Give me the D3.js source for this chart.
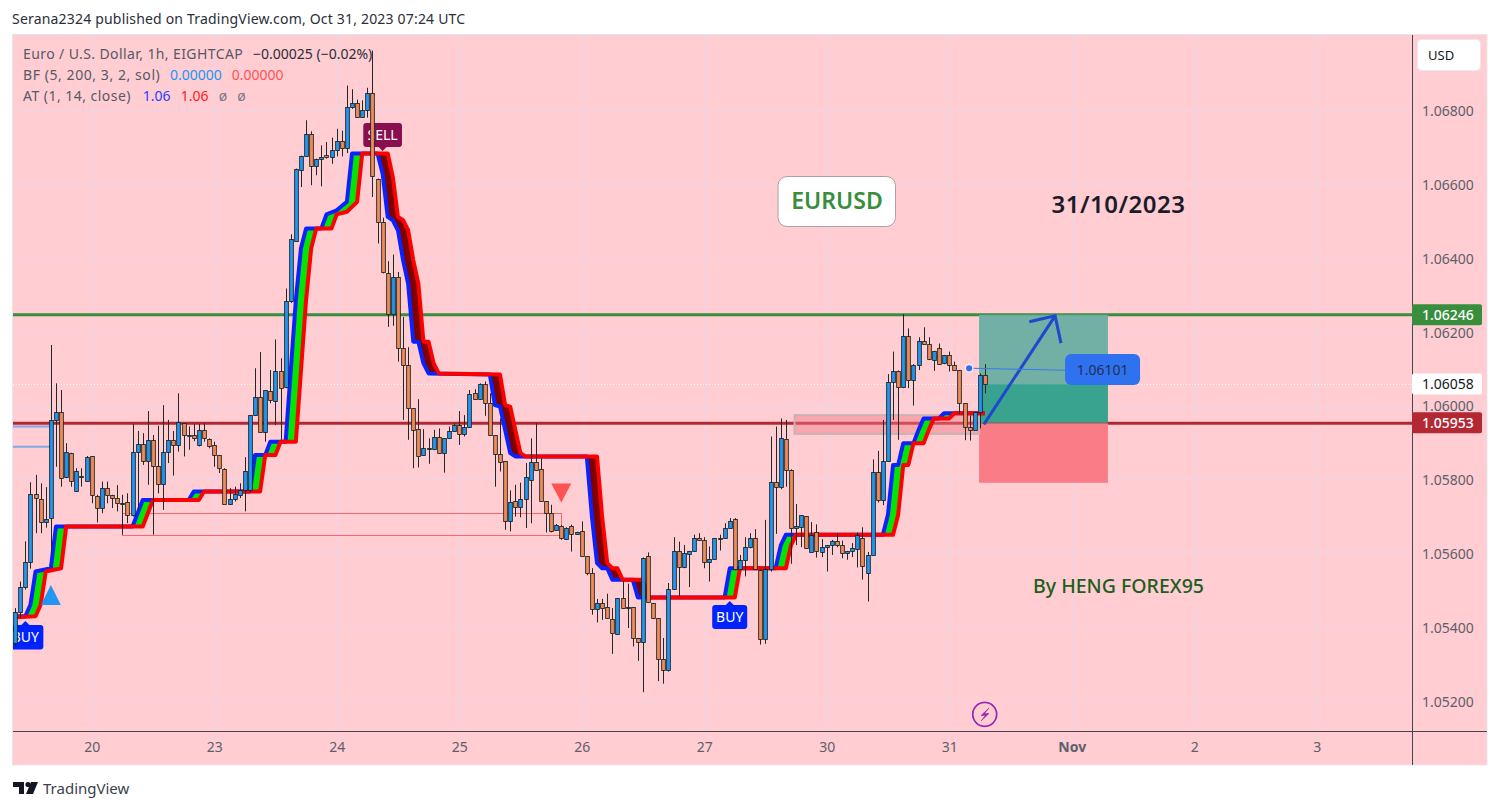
<!DOCTYPE html>
<html><head><meta charset="utf-8">
<script src="https://cdn.jsdelivr.net/npm/d3@7/dist/d3.min.js"></script>
<style>
html,body{margin:0;padding:0;background:#fff;}
svg{display:block;font-family:"Noto Sans",sans-serif;}
</style></head><body>
<svg id="c" width="1500" height="810"></svg>
<script>
// ---- data ----
const opens=[1.05356,1.05440,1.05508,1.05576,1.05760,1.05746,1.05684,1.05695,1.05960,1.05982,1.05806,1.05871,1.05768,1.05808,1.05795,1.05863,1.05754,1.05722,1.05776,1.05757,1.05748,1.05733,1.05738,1.05703,1.05873,1.05895,1.05849,1.05906,1.05835,1.05787,1.05873,1.05906,1.05892,1.05952,1.05919,1.05919,1.05892,1.05933,1.05908,1.05892,1.05865,1.05827,1.05733,1.05746,1.05757,1.05770,1.05770,1.05973,1.06022,1.05927,1.06038,1.06011,1.06093,1.06049,1.06282,1.06446,1.06639,1.06677,1.06737,1.06650,1.06669,1.06679,1.06674,1.06693,1.06718,1.06699,1.06810,1.06820,1.06782,1.06801,1.06847,1.06615,1.06498,1.06360,1.06249,1.06347,1.06155,1.06109,1.05992,1.05936,1.05865,1.05882,1.05881,1.05914,1.05871,1.05911,1.05930,1.05946,1.05922,1.05941,1.06033,1.06017,1.06057,1.06006,1.05919,1.05868,1.05849,1.05687,1.05741,1.05724,1.05746,1.05798,1.05846,1.05827,1.05741,1.05708,1.05662,1.05673,1.05638,1.05673,1.05651,1.05660,1.05592,1.05546,1.05448,1.05465,1.05454,1.05421,1.05381,1.05478,1.05451,1.05454,1.05370,1.05359,1.05592,1.05465,1.05424,1.05313,1.05283,1.05502,1.05605,1.05562,1.05597,1.05605,1.05641,1.05635,1.05576,1.05584,1.05641,1.05641,1.05668,1.05692,1.05557,1.05581,1.05616,1.05641,1.05554,1.05367,1.05557,1.05792,1.05779,1.05909,1.05825,1.05668,1.05670,1.05700,1.05603,1.05657,1.05603,1.05616,1.05622,1.05632,1.05622,1.05600,1.05605,1.05611,1.05641,1.05546,1.05595,1.05819,1.05743,1.05849,1.06063,1.06093,1.06049,1.06187,1.06068,1.06109,1.06174,1.06166,1.06122,1.06157,1.06114,1.06136,1.06109,1.06095,1.06006,1.05941,1.05933,1.05982,1.06082];
const highs=[1.05451,1.05523,1.05632,1.05792,1.05812,1.05789,1.05779,1.06164,1.06060,1.06042,1.05898,1.05872,1.05830,1.05830,1.05863,1.05863,1.05758,1.05794,1.05794,1.05758,1.05784,1.05758,1.05762,1.05950,1.05931,1.05925,1.05985,1.05920,1.05945,1.06001,1.05961,1.05931,1.06033,1.05952,1.05943,1.05950,1.05950,1.05952,1.05911,1.05902,1.05866,1.05830,1.05776,1.05780,1.05789,1.05860,1.05974,1.06101,1.06145,1.06042,1.06096,1.06179,1.06128,1.06317,1.06464,1.06642,1.06677,1.06773,1.06743,1.06669,1.06705,1.06714,1.06726,1.06750,1.06745,1.06867,1.06857,1.06829,1.06827,1.06861,1.06962,1.06615,1.06509,1.06391,1.06409,1.06362,1.06240,1.06158,1.05992,1.06017,1.05936,1.05911,1.05934,1.05938,1.05911,1.05943,1.05952,1.05985,1.05974,1.06042,1.06044,1.06060,1.06065,1.06033,1.05919,1.05965,1.05849,1.05770,1.05785,1.05791,1.05844,1.05911,1.05952,1.05857,1.05741,1.05731,1.05679,1.05676,1.05670,1.05677,1.05658,1.05686,1.05592,1.05559,1.05476,1.05476,1.05490,1.05451,1.05478,1.05523,1.05517,1.05454,1.05370,1.05588,1.05602,1.05465,1.05424,1.05370,1.05519,1.05643,1.05631,1.05622,1.05606,1.05650,1.05654,1.05643,1.05618,1.05641,1.05650,1.05681,1.05695,1.05695,1.05595,1.05643,1.05654,1.05665,1.05556,1.05690,1.05916,1.05943,1.05965,1.05961,1.05827,1.05733,1.05703,1.05700,1.05684,1.05678,1.05638,1.05622,1.05636,1.05654,1.05634,1.05606,1.05627,1.05656,1.05670,1.05603,1.05854,1.05877,1.05961,1.06085,1.06146,1.06095,1.06248,1.06209,1.06112,1.06185,1.06212,1.06185,1.06148,1.06168,1.06137,1.06146,1.06119,1.06096,1.06006,1.05973,1.05983,1.06087,1.06112];
const lows=[1.05347,1.05424,1.05501,1.05558,1.05654,1.05654,1.05669,1.05600,1.05834,1.05780,1.05803,1.05780,1.05767,1.05780,1.05794,1.05735,1.05683,1.05708,1.05735,1.05722,1.05713,1.05650,1.05681,1.05699,1.05717,1.05839,1.05785,1.05650,1.05762,1.05717,1.05844,1.05810,1.05875,1.05862,1.05880,1.05903,1.05889,1.05902,1.05884,1.05834,1.05817,1.05733,1.05731,1.05740,1.05749,1.05713,1.05764,1.05972,1.05927,1.05902,1.06006,1.05947,1.05907,1.06047,1.06278,1.06446,1.06592,1.06676,1.06597,1.06624,1.06594,1.06669,1.06655,1.06675,1.06675,1.06684,1.06804,1.06781,1.06780,1.06780,1.06565,1.06439,1.06358,1.06213,1.06216,1.06119,1.05961,1.05907,1.05830,1.05832,1.05864,1.05842,1.05879,1.05870,1.05818,1.05911,1.05929,1.05893,1.05916,1.05941,1.06015,1.06015,1.05972,1.05919,1.05780,1.05821,1.05663,1.05659,1.05699,1.05697,1.05668,1.05681,1.05824,1.05741,1.05656,1.05656,1.05661,1.05636,1.05636,1.05604,1.05650,1.05592,1.05540,1.05433,1.05412,1.05419,1.05423,1.05327,1.05381,1.05450,1.05397,1.05347,1.05308,1.05223,1.05466,1.05423,1.05253,1.05246,1.05279,1.05502,1.05483,1.05559,1.05508,1.05604,1.05634,1.05559,1.05523,1.05584,1.05607,1.05640,1.05668,1.05557,1.05555,1.05537,1.05613,1.05555,1.05352,1.05354,1.05550,1.05652,1.05773,1.05780,1.05571,1.05622,1.05616,1.05613,1.05602,1.05588,1.05589,1.05550,1.05595,1.05616,1.05586,1.05582,1.05589,1.05561,1.05528,1.05469,1.05595,1.05737,1.05730,1.05848,1.05961,1.05907,1.06047,1.06047,1.06000,1.06096,1.06165,1.06123,1.06094,1.06114,1.06112,1.06092,1.06094,1.05977,1.05906,1.05905,1.05932,1.05938,1.06033];
const closes=[1.05440,1.05508,1.05576,1.05760,1.05748,1.05684,1.05692,1.05960,1.05982,1.05803,1.05875,1.05795,1.05822,1.05806,1.05860,1.05757,1.05722,1.05776,1.05757,1.05749,1.05735,1.05735,1.05703,1.05873,1.05895,1.05849,1.05906,1.05835,1.05787,1.05873,1.05906,1.05892,1.05955,1.05919,1.05917,1.05911,1.05933,1.05911,1.05890,1.05865,1.05830,1.05733,1.05746,1.05760,1.05770,1.05822,1.05973,1.06022,1.05927,1.06041,1.06013,1.06093,1.06047,1.06282,1.06450,1.06642,1.06677,1.06737,1.06650,1.06669,1.06674,1.06674,1.06693,1.06718,1.06699,1.06810,1.06820,1.06782,1.06801,1.06847,1.06623,1.06498,1.06363,1.06249,1.06349,1.06155,1.06109,1.05992,1.05933,1.05862,1.05884,1.05884,1.05914,1.05871,1.05911,1.05930,1.05946,1.05922,1.05941,1.06030,1.06017,1.06057,1.06006,1.05919,1.05868,1.05846,1.05687,1.05738,1.05724,1.05746,1.05806,1.05846,1.05825,1.05741,1.05708,1.05660,1.05676,1.05641,1.05668,1.05651,1.05657,1.05592,1.05546,1.05448,1.05465,1.05451,1.05424,1.05383,1.05478,1.05451,1.05454,1.05370,1.05359,1.05586,1.05467,1.05424,1.05313,1.05283,1.05502,1.05605,1.05562,1.05600,1.05605,1.05641,1.05635,1.05576,1.05584,1.05641,1.05642,1.05668,1.05688,1.05557,1.05581,1.05616,1.05641,1.05557,1.05367,1.05557,1.05792,1.05779,1.05911,1.05825,1.05668,1.05673,1.05703,1.05613,1.05649,1.05605,1.05616,1.05622,1.05632,1.05622,1.05600,1.05605,1.05613,1.05649,1.05565,1.05595,1.05819,1.05743,1.05849,1.06063,1.06093,1.06049,1.06187,1.06068,1.06109,1.06174,1.06166,1.06125,1.06147,1.06114,1.06136,1.06109,1.06095,1.06006,1.05941,1.05933,1.05982,1.06082,1.06057];

const blueIdx=[0,2,3,4,7,8,23,25,34,35,46,47,49,50,53,55,56,57,60,61,63,65,66,71,72,73,74,75,76,77,78,79,80,81,93,94,95,96,97,98,112,113,114,115,116,117,121,122,139,140,149,150,151,170,171,172,173,174,176,177,178,181,182,190];
const blueVal=[1.05429,1.05429,1.05460,1.05550,1.05559,1.05672,1.05672,1.05744,1.05744,1.05767,1.05767,1.05866,1.05866,1.05902,1.05902,1.06286,1.06426,1.06480,1.06480,1.06518,1.06529,1.06552,1.06683,1.06683,1.06628,1.06511,1.06502,1.06475,1.06394,1.06330,1.06173,1.06173,1.06114,1.06087,1.06084,1.06001,1.05997,1.05934,1.05871,1.05862,1.05862,1.05699,1.05573,1.05559,1.05559,1.05528,1.05528,1.05480,1.05480,1.05559,1.05559,1.05621,1.05650,1.05650,1.05704,1.05839,1.05839,1.05898,1.05898,1.05934,1.05965,1.05965,1.05979,1.05979];
const redIdx=[0,4,5,6,9,10,25,27,36,37,48,49,51,52,55,57,58,59,62,63,65,67,68,73,74,75,76,77,78,79,80,81,82,83,95,96,97,98,99,100,114,115,116,117,118,119,123,124,141,142,151,152,153,172,173,174,175,176,178,179,180,183,184,190];
const redVal=[1.05426,1.05429,1.05460,1.05550,1.05559,1.05672,1.05672,1.05744,1.05744,1.05767,1.05767,1.05866,1.05866,1.05902,1.05902,1.06286,1.06426,1.06480,1.06480,1.06518,1.06525,1.06552,1.06683,1.06683,1.06619,1.06511,1.06502,1.06475,1.06394,1.06330,1.06173,1.06173,1.06114,1.06087,1.06084,1.06001,1.05997,1.05934,1.05871,1.05862,1.05862,1.05699,1.05573,1.05559,1.05559,1.05528,1.05528,1.05480,1.05480,1.05559,1.05559,1.05621,1.05650,1.05650,1.05704,1.05839,1.05839,1.05898,1.05898,1.05934,1.05965,1.05965,1.05979,1.05979];

const priceTicks=[1.052,1.054,1.056,1.058,1.060,1.062,1.064,1.066,1.068];
const dayIdx=[15,39,63,87,111,135,159,183,207,231,255];
const dayLabels=["20","23","24","25","26","27","30","31","Nov","2","3"];
const targetPrice=1.06246, entryPrice=1.05953, stopPrice=1.05792, lastPrice=1.06058, callPrice=1.06101;
const rangeBox=[21,107,1.05710,1.05650];
const zoneBox=[152.7,188.85,1.05974,1.05923];
const posBox=[188.85,214.1];
const shortLevels=[1.05943,1.05888];
const arrowIdx=[189.8,203.75,198.7,204.9];
const arrowVal=[1.05949,1.06243,1.06227,1.06169];
const callIdx=[186.9,205.7];

// ---- layout ----
const svg=d3.select("#c");
const L=13,R=1412,T=35,B=731,PR=1487,PB=765;
const x=d3.scaleLinear().domain([15,255]).range([91.7,1316.7]);
const y=d3.scaleLinear().domain([1.052,1.068]).range([700.7,110.3]);
const snap=v=>Math.round(v)+0.5;

svg.append("rect").attr("x",12.5).attr("y",34.5).attr("width",PR-12.5).attr("height",PB-34.5).attr("fill","#ffcdd2").attr("stroke","#e8e6ec");
const defs=svg.append("defs");
defs.append("clipPath").attr("id","pane").append("rect").attr("x",L).attr("y",T).attr("width",R-L).attr("height",B-T);
const pane=svg.append("g").attr("clip-path","url(#pane)");

// grid
const gridC="#e6d6e6";
pane.selectAll(".gy").data(priceTicks).join("line").attr("x1",L).attr("x2",R).attr("y1",d=>snap(y(d))).attr("y2",d=>snap(y(d))).attr("stroke",gridC);
pane.selectAll(".gx").data(dayIdx).join("line").attr("y1",T).attr("y2",B).attr("x1",d=>snap(x(d))).attr("x2",d=>snap(x(d))).attr("stroke",gridC);

// range box and short levels
pane.append("rect").attr("x",snap(x(rangeBox[0]))).attr("width",Math.round(x(rangeBox[1])-x(rangeBox[0])))
  .attr("y",snap(y(rangeBox[2]))).attr("height",Math.round(y(rangeBox[3])-y(rangeBox[2]))).attr("fill","none").attr("stroke","#f4686e").attr("stroke-width",1);
pane.selectAll(".sl").data(shortLevels).join("line").attr("x1",L).attr("x2",50).attr("y1",d=>y(d)).attr("y2",d=>y(d)).attr("stroke","#7fa8e6").attr("stroke-width",2);

// horizontal levels
pane.append("line").attr("x1",L).attr("x2",R).attr("y1",y(lastPrice)+.3).attr("y2",y(lastPrice)+.3).attr("stroke","#fff").attr("stroke-width",1).attr("stroke-dasharray","1 2");
pane.append("line").attr("x1",L).attr("x2",R).attr("y1",y(targetPrice)).attr("y2",y(targetPrice)).attr("stroke","#388e3c").attr("stroke-width",3);
pane.append("line").attr("x1",L).attr("x2",R).attr("y1",y(entryPrice)+.4).attr("y2",y(entryPrice)+.4).attr("stroke","#b22833").attr("stroke-width",3);

// position zones
const px0=x(posBox[0]),pw=x(posBox[1])-x(posBox[0]);
pane.append("rect").attr("x",px0).attr("width",pw).attr("y",y(targetPrice)).attr("height",y(lastPrice)-y(targetPrice)).attr("fill","#6dada2").attr("opacity",.97);
pane.append("rect").attr("x",px0).attr("width",pw).attr("y",y(lastPrice)).attr("height",y(entryPrice)-y(lastPrice)).attr("fill","#33a18d").attr("opacity",.97);
pane.append("rect").attr("x",px0).attr("width",pw).attr("y",y(entryPrice)+.5).attr("height",y(stopPrice)-y(entryPrice)).attr("fill","#f97c86");

// gray zone
pane.append("rect").attr("x",x(zoneBox[0])).attr("width",x(zoneBox[1])-x(zoneBox[0])).attr("y",y(zoneBox[2])).attr("height",y(zoneBox[3])-y(zoneBox[2]))
  .attr("fill","rgba(245,120,130,.45)").attr("stroke","#c9b2b6").attr("stroke-width",2);

// AT band
const blueAt=d3.scaleLinear().domain(blueIdx).range(blueVal);
const redAt=d3.scaleLinear().domain(redIdx).range(redVal);
const bars=d3.range(opens.length);
const areaG=d3.area().x(d=>x(d)).y0(d=>y(redAt(d))).y1(d=>y(Math.max(blueAt(d),redAt(d))));
const areaR=d3.area().x(d=>x(d)).y0(d=>y(redAt(d))).y1(d=>y(Math.min(blueAt(d),redAt(d))));
pane.append("path").attr("d",areaG(bars)).attr("fill","#00e600");
pane.append("path").attr("d",areaR(bars)).attr("fill","#800000");
const lineFn=d3.line().x(d=>x(d[0])).y(d=>y(d[1]));
pane.append("path").attr("d",lineFn(d3.zip(blueIdx,blueVal))).attr("fill","none").attr("stroke","#0a22ff").attr("stroke-width",4).attr("stroke-linejoin","round");
pane.append("path").attr("d",lineFn(d3.zip(redIdx,redVal))).attr("fill","none").attr("stroke","#ff0000").attr("stroke-width",4).attr("stroke-linejoin","round");

// labels under the candles
function tag(cx,top,w,h,dir,fill,label){
  const g=pane.append("g");
  const l=cx-w/2;
  const n=dir==="up"?`M${cx-4} ${top}L${cx} ${top-4}L${cx+4} ${top}Z`:`M${cx-4} ${top+h}L${cx} ${top+h+4}L${cx+4} ${top+h}Z`;
  g.append("path").attr("d",n).attr("fill",fill);
  g.append("rect").attr("x",l).attr("y",top).attr("width",w).attr("height",h).attr("rx",3).attr("fill",fill);
  g.append("text").attr("x",cx).attr("y",top+h/2+5).attr("text-anchor","middle").attr("font-size",14).attr("fill","#fff").text(label);
}
tag(x(2),625,36,24.5,"up","#0022ff","BUY");
tag(x(72),123,38.7,24,"down","#880e4f","SELL");
tag(x(140),605,35,24,"up","#0022ff","BUY");

// triangles
pane.append("path").attr("d",`M${x(7)} 585L${x(7)+10} 605L${x(7)-10} 605Z`).attr("fill","#2196f3");
pane.append("path").attr("d",`M${x(107)-10} 483.5L${x(107)+10} 483.5L${x(107)} 502.5Z`).attr("fill","#ff5252");

// candles
const cg=pane.append("g");
cg.selectAll(".w").data(bars).join("line")
  .attr("x1",i=>snap(x(i))).attr("x2",i=>snap(x(i))).attr("y1",i=>y(highs[i])).attr("y2",i=>y(lows[i])).attr("stroke","#1f2a28").attr("stroke-width",1);
cg.selectAll(".b").data(bars).join("rect")
  .attr("x",i=>Math.round(x(i))-1.35)
  .attr("width",3.7)
  .attr("y",i=>snap(y(Math.max(opens[i],closes[i]))))
  .attr("height",i=>Math.max(1,Math.round(Math.abs(y(opens[i])-y(closes[i])))))
  .attr("fill",i=>closes[i]>=opens[i]?"#2196f3":"#f08a5a")
  .attr("stroke","#16231f").attr("stroke-width",.85);

// arrow
const ap=i=>[x(arrowIdx[i]),y(arrowVal[i])];
pane.append("path").attr("d",d3.line()([ap(0),ap(1)])).attr("stroke","#1e48cf").attr("stroke-width",3).attr("fill","none");
pane.append("path").attr("d",d3.line()([ap(2),ap(1),ap(3)])).attr("stroke","#1e48cf").attr("stroke-width",3).attr("fill","none");

// callout
const cx0=x(callIdx[0]),cx1=x(callIdx[1]),cy=y(callPrice);
pane.append("line").attr("x1",cx0).attr("x2",cx1).attr("y1",cy).attr("y2",cy+2).attr("stroke","#3b78ee").attr("stroke-width",1);
pane.append("circle").attr("cx",cx0).attr("cy",cy).attr("r",3.8).attr("fill","#2f6fed").attr("stroke","#f5e9f2").attr("stroke-width",1.4);
pane.append("rect").attr("x",cx1).attr("y",354).attr("width",75).attr("height",31).attr("rx",6).attr("fill","#2f72f0");
pane.append("text").attr("x",cx1+37.5).attr("y",375).attr("text-anchor","middle").attr("font-size",14).attr("fill","#1f2f4f").text("1.06101");

// text notes
pane.append("rect").attr("x",778).attr("y",176.5).attr("width",117.5).attr("height",50).attr("rx",9).attr("fill","#fff").attr("stroke","#b09ea3");
pane.append("text").attr("x",837).attr("y",209).attr("text-anchor","middle").attr("font-size",23).attr("font-weight",600).attr("fill","#388e3c").text("EURUSD");
pane.append("text").attr("x",1118.5).attr("y",213).attr("text-anchor","middle").attr("font-size",24).attr("font-weight",600).attr("letter-spacing",.5).attr("fill","#1a1c2b").text("31/10/2023");
pane.append("text").attr("x",1118.5).attr("y",593).attr("text-anchor","middle").attr("font-size",19.5).attr("font-weight",500).attr("fill","#1b5e20").text("By HENG FOREX95");

// lightning icon
pane.append("circle").attr("cx",984.7).attr("cy",714.3).attr("r",13.5).attr("fill","#fde7ee");
pane.append("circle").attr("cx",984.7).attr("cy",714.3).attr("r",12).attr("fill","#ffcdd2").attr("stroke","#9c27b0").attr("stroke-width",1.8);
pane.append("path").attr("d","M989 708L981 715.5L985.5 715.5L981 721L989 713.5L984.5 713.5Z").attr("fill","#9c27b0").attr("stroke","#9c27b0").attr("stroke-width",.6);

// axes
const yAxis=d3.axisRight(y).tickValues(priceTicks).tickFormat(d3.format(".5f")).tickSize(0).tickPadding(10);
const gy=svg.append("g").attr("transform",`translate(${R},1)`).call(yAxis);
gy.select(".domain").remove();
gy.selectAll("text").attr("font-family",'"Noto Sans",sans-serif').attr("font-size",14).attr("fill","#5d606b");
const xAxis=d3.axisBottom(x).tickValues(dayIdx).tickFormat((d,i)=>dayLabels[i]).tickSize(0).tickPadding(11);
const gx=svg.append("g").attr("transform",`translate(0,${B})`).call(xAxis);
gx.select(".domain").remove();
gx.selectAll("text").attr("font-family",'"Noto Sans",sans-serif').attr("font-size",14).attr("fill","#5d606b")
  .attr("font-weight",(d,i)=>dayLabels[i]==="Nov"?700:400);
svg.append("line").attr("x1",L).attr("x2",PR).attr("y1",B+.5).attr("y2",B+.5).attr("stroke","#434651");
svg.append("line").attr("x1",R+.5).attr("x2",R+.5).attr("y1",T).attr("y2",PB).attr("stroke","#434651");

// price tags
[[targetPrice,"#388e3c","#fff"],[lastPrice,"#fff","#131722"],[entryPrice,"#b22833","#fff"]].forEach(([p,f,t])=>{
  const yy=y(p);
  svg.append("rect").attr("x",R).attr("y",yy-10.5).attr("width",70).attr("height",21).attr("rx",2).attr("fill",f);
  svg.append("text").attr("x",R+10).attr("y",yy+5).attr("font-size",14).attr("fill",t).attr("font-weight",p===lastPrice?400:500).text(d3.format(".5f")(p));
});

// USD button
svg.append("rect").attr("x",1417.5).attr("y",39.5).attr("width",63).attr("height",31).attr("rx",4).attr("fill","#fff").attr("stroke","#ece6ee");
svg.append("text").attr("x",1428).attr("y",60).attr("font-size",13).attr("fill","#131722").text("USD");

// legend
function tx(xx,yy,s,c,ls){pane.append("text").attr("x",xx).attr("y",yy).attr("font-size",14).attr("letter-spacing",ls||0).attr("fill",c).text(s);}
tx(23,59,"Euro / U.S. Dollar, 1h, EIGHTCAP","#555a66",.4);
tx(253,59,"−0.00025 (−0.02%)","#2a2e39");
tx(23,80,"BF (5, 200, 3, 2, sol)","#555a66",.57);
tx(170,80,"0.00000","#2196f3");
tx(231.7,80,"0.00000","#ff5252");
tx(23,101,"AT (1, 14, close)","#555a66",.47);
tx(142.7,101,"1.06","#2942ff");
tx(180.7,101,"1.06","#ff1a1a");
tx(218.7,101,"ø","#777b86");
tx(237.3,101,"ø","#777b86");

// header and footer
svg.append("text").attr("x",12).attr("y",24).attr("font-size",14).attr("letter-spacing",.19).attr("fill","#2a2e39").text("Serana2324 published on TradingView.com, Oct 31, 2023 07:24 UTC");
svg.append("path").attr("d","M13 782H24V794H19V787H13Z M26 794L31 782H38L33 794Z").attr("fill","#131722");
svg.append("circle").attr("cx",28).attr("cy",784.5).attr("r",2.6).attr("fill","#131722");
svg.append("text").attr("x",43).attr("y",794).attr("font-size",15).attr("fill","#3a3f4b").text("TradingView");
</script>
</body></html>
